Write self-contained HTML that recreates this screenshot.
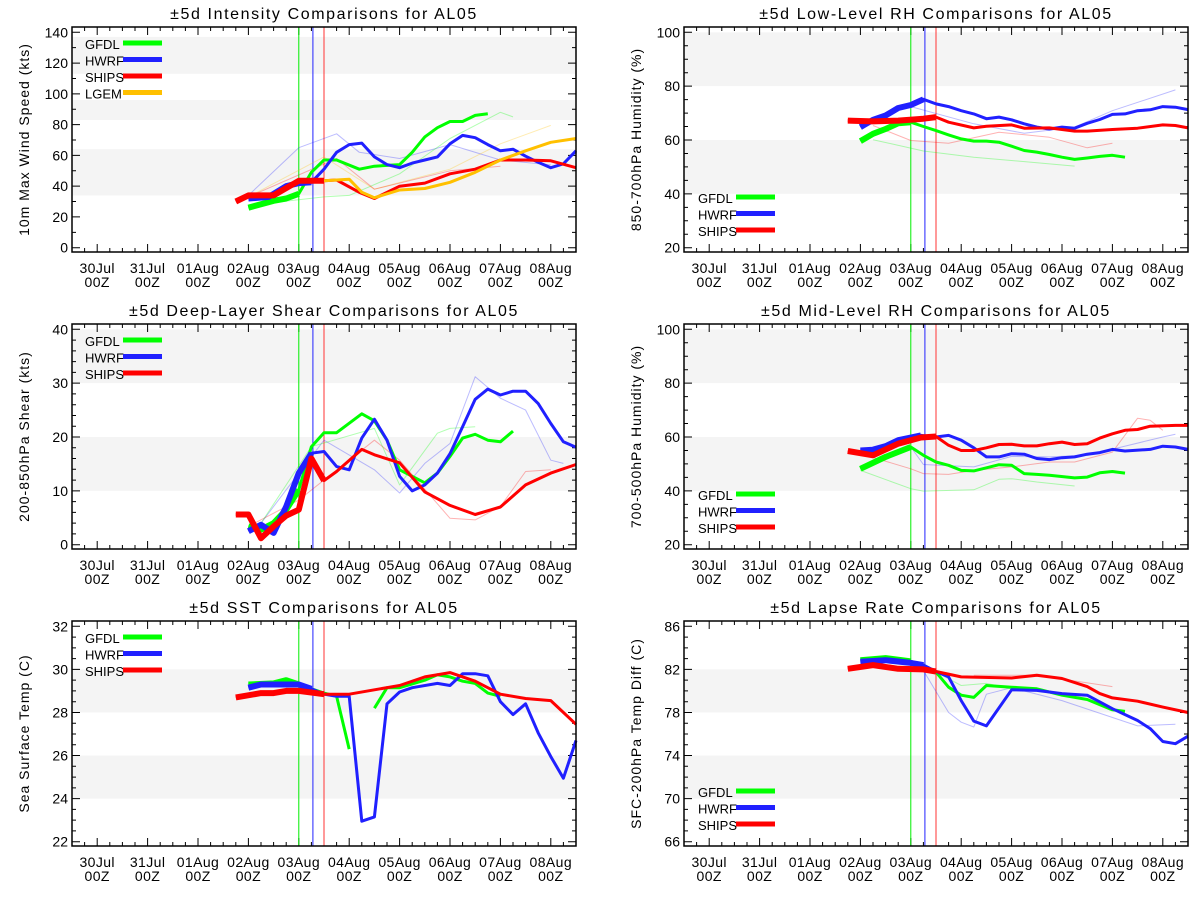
<!DOCTYPE html>
<html><head><meta charset="utf-8"><style>
html,body{margin:0;padding:0;background:#fff;}
svg{display:block;font-family:"Liberation Sans",sans-serif;}
</style></head><body>
<svg id="chart" width="1200" height="900" viewBox="0 0 1200 900" xmlns="http://www.w3.org/2000/svg"></svg>
<script>
// ---- shared axis data ----
const dayLabels=['30Jul','31Jul','01Aug','02Aug','03Aug','04Aug','05Aug','06Aug','07Aug','08Aug'];
const initLines=[4.0,4.28,4.5];
const initColors=['#00ee00','#2222ff','#ff3333'];
// ---- Intensity ----
const int_gfdl_t=[3,3.5,3.75,4,4.25,4.5,4.75,5.2,5.5,6,6.25,6.5,6.75,7,7.25,7.5,7.75];
const int_gfdl_v=[26,30.5,32,35,49,57,57,51,53,54,62,72,78,82,82,86,87];
const int_hwrf_t=[3,3.4,3.75,4,4.25,4.5,4.75,5,5.25,5.5,5.75,6,6.25,6.5,6.75,7,7.25,7.5,7.75,8,8.25,8.5,8.75,9,9.25,9.5];
const int_hwrf_v=[32,33,40,42,42.5,51,62,67,68,59,54,52,55,57,59,67.5,73,71.5,67,63,64,59.5,55.5,52,54.5,63];
const int_ships_t=[2.75,3,3.5,4,4.5,4.75,5.2,5.5,6,6.5,7,7.5,8,8.5,9,9.5];
const int_ships_v=[30,34,34,43.5,43.5,44,36,32,40,42,48,51,57,57,56.5,52];
const int_lgem_t=[4.5,5,5.25,5.5,6,6.5,7,7.5,8,8.5,9,9.5];
const int_lgem_v=[43.5,44.5,36,32.5,37.5,38.5,42.5,49,57,63,68.5,71];
const int_fb_t=[3,4,4.75,5.2,6,7,8,9]; const int_fb_v=[34,65,74,62,58,67,57,53.8];
const int_fg_t=[3.4,4.5,5,6,7,8,8.25]; const int_fg_v=[29,33,34,48,71,88,85];
const int_fo_t=[3,4.5,5.5,7,8,9]; const int_fo_v=[33,59,38,51,67.5,79.5];
const int_fr_t=[3,4.75,5.5,7,8]; const int_fr_v=[33,58,38,50,53];
// ---- Shear ----
const sh_gfdl_t=[3,3.25,3.5,3.75,4,4.25,4.5,4.75,5.25,5.5,5.75,6,6.25,6.5,6.75,7,7.25,7.5,7.75,8,8.25];
const sh_gfdl_v=[3.4,2.8,4,6.5,10.2,18.2,20.8,20.8,24.3,23,19.4,13.9,12.7,11.5,13.3,16.4,19.8,20.5,19.4,19.1,21.1];
const sh_hwrf_t=[3,3.25,3.5,3.75,4,4.25,4.5,4.75,5,5.25,5.5,5.75,6,6.25,6.5,6.75,7,7.25,7.5,7.75,8,8.25,8.5,8.75,9,9.25,9.5];
const sh_hwrf_v=[2.5,3.7,2.2,7.1,13.3,17,17.3,14.5,13.9,19.8,23.3,19.4,12.7,10,11.1,13.3,16.9,21.9,27,28.9,27.8,28.5,28.5,26.2,22.5,19.1,18.1];
const sh_ships_t=[2.75,3,3.25,3.5,3.75,4,4.25,4.5,4.75,5.25,5.5,6,6.5,7,7.5,8,8.5,9,9.5];
const sh_ships_v=[5.6,5.6,1.2,3.4,5.4,6.5,16,11.9,13.6,17.7,16.7,15.2,9.8,7.3,5.6,7,11.1,13.3,14.9];
const sh_fb_t=[3.25,3.75,4.5,5.5,6,6.5,7,7.5,8,8.5,9,9.25]; const sh_fb_v=[4,10.2,19.4,13.9,9.6,15.1,18.8,31.2,27.2,25,15.7,15.1];
const sh_fr_t=[3,4,5.5,6,7,7.5,8,8.5,9]; const sh_fr_v=[3.4,8.3,19.4,15.7,4.9,4.6,7.1,13.6,13.9];
const sh_fg_t=[3.25,4.25,5.5,6,6.75,7,7.5]; const sh_fg_v=[4,18.2,21.6,11.1,20.7,21.6,21.9];
// ---- SST ----
const sst_gfdl_t=[3,3.5,3.75,4,4.5,4.75,5.0,5.25,5.5,5.75,6,6.5,6.75,7,7.25,7.5,7.75,8];
const sst_gfdl_v=[29.3,29.35,29.5,29.3,28.9,28.75,26.3,null,28.2,29.15,29.15,29.5,29.75,29.65,29.45,29.35,28.9,28.75];
const sst_hwrf_t=[3,3.25,4,4.25,4.5,4.75,5,5.25,5.5,5.75,6,6.25,6.75,7,7.25,7.5,7.75,8,8.25,8.5,8.75,9,9.25,9.5];
const sst_hwrf_v=[29.15,29.3,29.3,29.1,28.85,28.75,28.75,22.95,23.15,28.4,28.95,29.15,29.35,29.25,29.8,29.8,29.7,28.5,27.9,28.4,27.05,25.95,24.95,26.7];
const sst_ships_t=[2.75,3.25,3.5,3.75,4,4.5,5,5.5,6,6.5,7,7.5,8,8.5,9,9.5];
const sst_ships_v=[28.7,28.9,28.9,29.0,29.0,28.85,28.85,29.05,29.25,29.65,29.85,29.45,28.85,28.65,28.55,27.45];
// ---- Low-level RH ----
const lrh_gfdl_t=[3,3.25,3.5,3.75,4,4.25,4.5,4.75,5,5.25,5.5,5.75,6,6.25,6.5,6.75,7,7.25,7.5,7.75,8,8.25];
const lrh_gfdl_v=[59.6,62.3,64.1,66.2,66.6,65,63.5,61.9,60.4,59.6,59.6,59.2,57.7,56.1,55.5,54.6,53.6,52.8,53.3,53.9,54.3,53.6];
const lrh_hwrf_t=[3,3.25,3.5,3.75,4,4.25,4.5,4.75,5,5.25,5.5,5.75,6,6.25,6.5,6.75,7,7.25,7.5,7.75,8,8.25,8.5,8.75,9,9.25,9.5];
const lrh_hwrf_v=[64.8,67.5,69.1,71.9,73,75.1,73.4,72.4,70.9,69.7,67.9,68.5,67.5,66,64.8,64.1,64.8,64.4,66.2,67.6,69.5,69.7,70.9,71.2,72.4,72.2,71.3];
const lrh_ships_t=[2.75,3.25,3.75,4.25,4.5,4.75,5.25,5.5,6,6.25,6.75,7.25,7.5,8,8.5,9,9.25,9.5];
const lrh_ships_v=[67.2,66.9,67.2,67.9,68.5,66.6,64.5,65.1,65.6,64.4,64.5,63.3,63.3,63.9,64.4,65.6,65.4,64.5];
const lrh_fg_t=[3.25,4.25,5.25,7.25]; const lrh_fg_v=[60.1,55.9,53.6,50.3];
const lrh_fr_t=[3.25,4,4.75,5.75,6.75,7.5,8]; const lrh_fr_v=[65.4,59.8,58.8,62.9,61,57.1,58.8];
const lrh_fb_t=[4,5.25,6.25,7.25,8,9.25]; const lrh_fb_v=[72.4,66,62.5,64.8,70.9,78.6];
// ---- Mid-level RH ----
const mrh_gfdl_t=[3,3.5,4,4.25,4.5,4.75,5,5.25,5.75,6,6.25,6.5,6.75,7.25,7.5,7.75,8,8.25];
const mrh_gfdl_v=[48.2,52.6,56.3,53.2,50.7,49.5,47.6,47.4,49.7,49.5,46.4,46.1,45.8,44.8,45.1,46.7,47.2,46.6];
const mrh_hwrf_t=[3,3.25,3.5,3.75,4.2,4.5,4.75,5,5.25,5.5,5.75,6,6.25,6.5,6.75,7,7.25,7.5,7.75,8,8.25,8.75,9,9.25,9.5];
const mrh_hwrf_v=[55,55.3,56.6,58.8,60.6,60,60.6,58.8,56,52.6,52.6,53.8,53.6,52,51.6,52.3,52.6,53.6,54.2,55.4,54.8,55.4,56.6,56.3,55.4];
const mrh_ships_t=[2.75,3.25,3.75,4.2,4.5,4.75,5,5.25,5.5,5.75,6,6.25,6.5,6.75,7,7.25,7.5,7.75,8,8.25,8.5,8.75,9.25,9.5];
const mrh_ships_v=[54.8,53.2,57.5,59.8,60.2,56.9,55,55,56,57.2,57.3,56.7,56.7,57.5,58.1,57.2,57.5,59.6,61.2,62.5,62.8,64,64.3,64.3];
const mrh_fg_t=[3,4,4.25,5.25,5.75,6,6.5,7.25]; const mrh_fg_v=[47.6,40.8,39.9,40.4,44.3,44.5,43.3,41.8];
const mrh_fr_t=[3,4,4.25,4.75,5.25,6,6.75,7.25,8,8.5,8.75,9]; const mrh_fr_v=[53.8,48.2,46.4,46.1,47.6,48.9,50.7,50.7,54.4,67,66.2,62.5];
const mrh_fb_t=[4,4.25,5.25,6,6.75,7.5,9,9.25]; const mrh_fb_v=[56.3,49.8,48.9,52.8,52.6,53.2,60,61];
// ---- Lapse rate ----
const lr_gfdl_t=[3,3.5,4,4.25,4.5,4.75,5,5.25,5.5,6,6.5,7,7.5,8,8.25];
const lr_gfdl_v=[82.85,83.05,82.75,82.4,81.75,80.35,79.6,79.4,80.5,80.35,80.2,79.6,79.2,78.25,78.1];
const lr_hwrf_t=[3,3.5,4,4.25,4.5,4.75,5,5.25,5.5,6,6.5,7,7.5,8,8.5,8.75,9,9.25,9.5];
const lr_hwrf_v=[82.7,82.85,82.6,82.4,81.8,81.3,79.1,77.2,76.75,80.1,80.05,79.75,79.6,78.35,77.25,76.5,75.3,75.1,75.8];
const lr_ships_t=[2.75,3.25,3.75,4.25,4.5,5,6,6.5,7,7.5,7.75,8,8.5,9,9.5];
const lr_ships_v=[82.05,82.4,82.05,82,81.8,81.3,81.2,81.45,81.15,80.4,79.75,79.35,79.05,78.5,78];
const lr_fb_t=[4.25,4.75,5,5.25,5.5,6,7,8.5,9.25]; const lr_fb_v=[81.9,78,77.1,76.65,79.7,80.3,79.1,76.75,76.9];
const lr_fg_t=[4.5,5,5.5,6]; const lr_fg_v=[81.75,80.5,80.7,80.2];
const lr_fr_t=[5.25,6.5,8]; const lr_fr_v=[81.45,81.45,80.4];

const GREEN='#00ff00',BLUE='#2020ff',RED='#ff0000',ORANGE='#ffc000';
const panels=[
 {id:'intensity',title:'±5d Intensity Comparisons for AL05',ytitle:'10m Max Wind Speed (kts)',x0:72,top:27,lo:0,hi:140,step:20,minor:10,bands:[[34,64],[83,96],[113,137]],legend:'top',
  series:[['GFDL',GREEN,int_gfdl_t,int_gfdl_v,4.0],['HWRF',BLUE,int_hwrf_t,int_hwrf_v,4.28],['SHIPS',RED,int_ships_t,int_ships_v,4.5],['LGEM',ORANGE,int_lgem_t,int_lgem_v,0]],
  faint:[[BLUE,int_fb_t,int_fb_v],[GREEN,int_fg_t,int_fg_v],[ORANGE,int_fo_t,int_fo_v],[RED,int_fr_t,int_fr_v]]},
 {id:'shear',title:'±5d Deep-Layer Shear Comparisons for AL05',ytitle:'200-850hPa Shear (kts)',x0:72,top:324,lo:0,hi:40,step:10,minor:2,bands:[[10,20],[30,40]],legend:'top',
  series:[['GFDL',GREEN,sh_gfdl_t,sh_gfdl_v,4.0],['HWRF',BLUE,sh_hwrf_t,sh_hwrf_v,4.28],['SHIPS',RED,sh_ships_t,sh_ships_v,4.5]],
  faint:[[BLUE,sh_fb_t,sh_fb_v],[RED,sh_fr_t,sh_fr_v],[GREEN,sh_fg_t,sh_fg_v]]},
 {id:'sst',title:'±5d SST Comparisons for AL05',ytitle:'Sea Surface Temp (C)',x0:72,top:621,lo:22,hi:32,step:2,minor:0.5,bands:[[28,30],[24,26]],legend:'top',
  series:[['GFDL',GREEN,sst_gfdl_t,sst_gfdl_v,4.0],['HWRF',BLUE,sst_hwrf_t,sst_hwrf_v,4.28],['SHIPS',RED,sst_ships_t,sst_ships_v,4.5]],faint:[]},
 {id:'low-rh',title:'±5d Low-Level RH Comparisons for AL05',ytitle:'850-700hPa Humidity (%)',x0:684,top:27,lo:20,hi:100,step:20,minor:5,bands:[[40,60],[80,100]],legend:'bottom',
  series:[['GFDL',GREEN,lrh_gfdl_t,lrh_gfdl_v,4.0],['HWRF',BLUE,lrh_hwrf_t,lrh_hwrf_v,4.28],['SHIPS',RED,lrh_ships_t,lrh_ships_v,4.5]],
  faint:[[GREEN,lrh_fg_t,lrh_fg_v],[RED,lrh_fr_t,lrh_fr_v],[BLUE,lrh_fb_t,lrh_fb_v]]},
 {id:'mid-rh',title:'±5d Mid-Level RH Comparisons for AL05',ytitle:'700-500hPa Humidity (%)',x0:684,top:324,lo:20,hi:100,step:20,minor:5,bands:[[40,60],[80,100]],legend:'bottom',
  series:[['GFDL',GREEN,mrh_gfdl_t,mrh_gfdl_v,4.0],['HWRF',BLUE,mrh_hwrf_t,mrh_hwrf_v,4.28],['SHIPS',RED,mrh_ships_t,mrh_ships_v,4.5]],
  faint:[[GREEN,mrh_fg_t,mrh_fg_v],[RED,mrh_fr_t,mrh_fr_v],[BLUE,mrh_fb_t,mrh_fb_v]]},
 {id:'lapse-rate',title:'±5d Lapse Rate Comparisons for AL05',ytitle:'SFC-200hPa Temp Diff (C)',x0:684,top:621,lo:66,hi:86,step:4,minor:1,bands:[[78,82],[70,74]],legend:'bottom',
  series:[['GFDL',GREEN,lr_gfdl_t,lr_gfdl_v,4.0],['HWRF',BLUE,lr_hwrf_t,lr_hwrf_v,4.28],['SHIPS',RED,lr_ships_t,lr_ships_v,4.5]],
  faint:[[BLUE,lr_fb_t,lr_fb_v],[GREEN,lr_fg_t,lr_fg_v],[RED,lr_fr_t,lr_fr_v]]}
];

const NS='http://www.w3.org/2000/svg';
const svg=document.getElementById('chart');
function mk(tag,attrs,parent){const e=document.createElementNS(NS,tag);for(const k in attrs)e.setAttribute(k,attrs[k]);(parent||svg).appendChild(e);return e;}
const W=504,H=225;

panels.forEach(p=>{
  const g=mk('g',{});
  
  
  const left=p.x0,right=p.x0+W,top=p.top,bot=p.top+H;
  const xs=d=>left+(d+0.5)*W/10;
  const ys=v=>(bot-4.3)-(v-p.lo)/(p.hi-p.lo)*(H-9.6);
  // bands
  p.bands.forEach((b,i)=>{
    const y1=Math.max(top,ys(b[1])),y2=Math.min(bot,ys(b[0]));
    const r=mk('rect',{x:left,y:y1,width:W,height:y2-y1,fill:'#f4f4f4'},g);
    
    
  });
  // title
  const t=mk('text',{x:(left+right)/2,y:top-8,'text-anchor':'middle','font-size':'16','letter-spacing':'1.6',fill:'#000'},g);
  t.textContent=p.title;
  
  
  // y title
  const yt=mk('text',{x:0,y:0,transform:`translate(${left-43},${(top+bot)/2}) rotate(-90)`,'text-anchor':'middle','font-size':'14','letter-spacing':'1',fill:'#000'},g);
  yt.textContent=p.ytitle;
  
  
  // y ticks
  for(let v=p.lo;v<=p.hi+1e-9;v+=p.minor){
    const major=Math.abs((v-p.lo)/p.step-Math.round((v-p.lo)/p.step))<1e-6;
    const L=major?8:4,y=ys(v);
    const tl=mk('path',{d:`M${left},${y}h${L}M${right},${y}h${-L}`,stroke:'#000','stroke-width':1},g);
    
    
    if(major){
      const lb=mk('text',{x:left-4,y:y+5,'text-anchor':'end','font-size':'14',fill:'#000'},g);
      lb.textContent=String(Math.round(v));
      
      
    }
  }
  // x ticks
  for(let q=-2;q<=38;q++){
    const d=q/4,x=xs(d);if(x<left||x>right)continue;
    const L=(q%4===0)?8:4;
    const tk=mk('path',{d:`M${x},${bot}v${-L}M${x},${top}v${L}`,stroke:'#000','stroke-width':1},g);
    
    
  }
  dayLabels.forEach((lab,i)=>{
    const x=xs(i);
    const tx=mk('text',{x:x,y:bot+21,'text-anchor':'middle','font-size':'14','letter-spacing':'0.4',fill:'#000'},g);
    tx.textContent=lab;
    
    
    const tz=mk('text',{x:x,y:bot+35,'text-anchor':'middle','font-size':'14','letter-spacing':'0.4',fill:'#000'},g);
    tz.textContent='00Z';
    
    
  });
  // init lines
  initLines.forEach((d,i)=>{
    const vl=mk('line',{x1:xs(d),x2:xs(d),y1:top,y2:bot,stroke:initColors[i],'stroke-width':1},g);
    
    
  });
  const pathOf=(ts,vs,maxT)=>{let s='',pen=false;for(let i=0;i<ts.length;i++){if(ts[i]>maxT+1e-6)break;const v=vs[i];if(v===null||v===undefined){pen=false;continue;}s+=(pen?'L':'M')+xs(ts[i]).toFixed(1)+','+ys(v).toFixed(1);pen=true;}return s;};
  // faint
  p.faint.forEach(f=>{
    const fl=mk('path',{d:pathOf(f[1],f[2],99),fill:'none',stroke:f[0],'stroke-width':1,'stroke-opacity':0.3,'stroke-linejoin':'round'},g);
    
    
  });
  // series
  p.series.forEach(s=>{
    const ln=mk('path',{d:pathOf(s[2],s[3],99),fill:'none',stroke:s[1],'stroke-width':3,'stroke-linejoin':'round'},g);
    
    
    if(s[4]>0){
      const th=mk('path',{d:pathOf(s[2],s[3],s[4]),fill:'none',stroke:s[1],'stroke-width':6,'stroke-linejoin':'round'},g);
      
      
    }
  });
  // frame
  const fr=mk('rect',{x:left,y:top,width:W,height:H,fill:'none',stroke:'#000','stroke-width':1.5},g);
  
  
  // legend
  const n=p.series.length;
  const ly0=p.legend==='top'?top+16:bot-22-(n-1)*16.5;
  const lx=p.legend==='top'?left+13:left+14;
  p.series.forEach((s,i)=>{
    const y=ly0+i*16.5;
    const lt=mk('text',{x:lx,y:y+6,'font-size':'13',fill:'#000'},g);
    lt.textContent=s[0];
    
    
    const ll=mk('line',{x1:lx+38,x2:lx+77,y1:y,y2:y,stroke:s[1],'stroke-width':5},g);
    
    
  });
});
</script>
</body></html>
